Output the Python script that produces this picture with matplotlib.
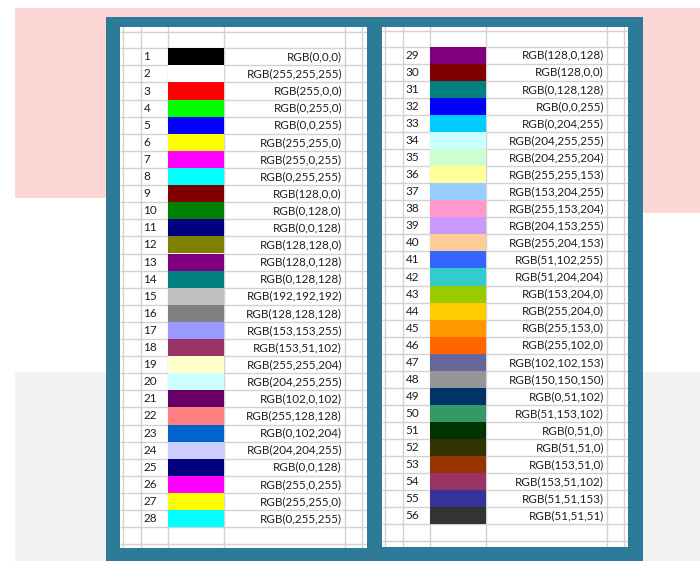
"""
Excel 56-colour palette sheet, redrawn with matplotlib.
"""
import matplotlib
matplotlib.use("Agg")
import matplotlib.pyplot as plt
from matplotlib.patches import Rectangle

# palette entries, in index order 1..56
palette_rgb = [
    (0, 0, 0), (255, 255, 255), (255, 0, 0), (0, 255, 0), (0, 0, 255),
    (255, 255, 0), (255, 0, 255), (0, 255, 255), (128, 0, 0), (0, 128, 0),
    (0, 0, 128), (128, 128, 0), (128, 0, 128), (0, 128, 128), (192, 192, 192),
    (128, 128, 128), (153, 153, 255), (153, 51, 102), (255, 255, 204), (204, 255, 255),
    (102, 0, 102), (255, 128, 128), (0, 102, 204), (204, 204, 255), (0, 0, 128),
    (255, 0, 255), (255, 255, 0), (0, 255, 255),
    (128, 0, 128), (128, 0, 0), (0, 128, 128), (0, 0, 255), (0, 204, 255),
    (204, 255, 255), (204, 255, 204), (255, 255, 153), (153, 204, 255), (255, 153, 204),
    (204, 153, 255), (255, 204, 153), (51, 102, 255), (51, 204, 204), (153, 204, 0),
    (255, 204, 0), (255, 153, 0), (255, 102, 0), (102, 102, 153), (150, 150, 150),
    (0, 51, 102), (51, 153, 102), (0, 51, 0), (51, 51, 0), (153, 51, 0),
    (153, 51, 102), (51, 51, 153), (51, 51, 51),
]
palette_index = list(range(1, len(palette_rgb) + 1))
rows_per_column = 28

W, H = 700, 561
TEAL = "#2e7b99"
GRID = "#d2d2d2"
TEXT = "#1e1e1e"

plt.rcParams["font.family"] = ["Lato", "DejaVu Sans"]

fig = plt.figure(figsize=(W / 100, H / 100), dpi=100)
fig.patch.set_facecolor("white")

# backdrop: blurred page behind the sheet
bg = fig.add_axes([0, 0, 1, 1])
bg.set_xlim(0, W)
bg.set_ylim(H, 0)
bg.axis("off")
bg.add_patch(Rectangle((15, 8), 685, 190, color="#fdd6d6", lw=0))
bg.add_patch(Rectangle((600, 8), 100, 205, color="#fdd6d6", lw=0))
bg.add_patch(Rectangle((15, 372), 685, H - 372, color="#f2f2f2", lw=0))
bg.add_patch(Rectangle((106, 17), 537, H - 17, color=TEAL, lw=0))


def sheet_panel(x0, x1, y0, y1, row_top, row_h, line_top, ids, colours):
    ax = fig.add_axes([x0 / W, 1 - y1 / H, (x1 - x0) / W, (y1 - y0) / H])
    width = x1 - x0
    ax.set_xlim(0, width)
    ax.set_ylim((y1 - row_top) / row_h, -(row_top - y0) / row_h)
    ax.set_facecolor("white")
    for s in ax.spines.values():
        s.set_visible(False)
    ax.set_xticks([])
    ax.set_yticks([])

    n_lines = int((y1 - row_top) / row_h) + 1
    ax.hlines([line_top] + list(range(0, n_lines)), 0, width, color=GRID, lw=1.0, zorder=1)
    ax.vlines([3, 21, 48, 104, 225, 242], -5, 40, color=GRID, lw=1.0, zorder=1)

    centres = [i + 0.5 for i in range(len(ids))]
    fills = [tuple(c / 255 for c in rgb) for rgb in colours]
    ax.barh(centres, 56, left=48, height=1, color=fills, lw=0, zorder=3)

    for yc, n, rgb in zip(centres, ids, colours):
        ax.text(23.5, yc, str(n), ha="left", va="center", fontsize=8.5,
                color=TEXT, zorder=4)
        ax.text(222, yc, "RGB(%d,%d,%d)" % rgb, ha="right", va="center",
                fontsize=8.4, color=TEXT, zorder=4)
    return ax


sheet_panel(120, 367, 27, 548, 48.3, 17.1, -0.97,
            palette_index[:rows_per_column], palette_rgb[:rows_per_column])
sheet_panel(382, 628, 27, 547, 46.7, 17.06, -0.94,
            palette_index[rows_per_column:], palette_rgb[rows_per_column:])

fig.savefig("out.png", dpi=100)
